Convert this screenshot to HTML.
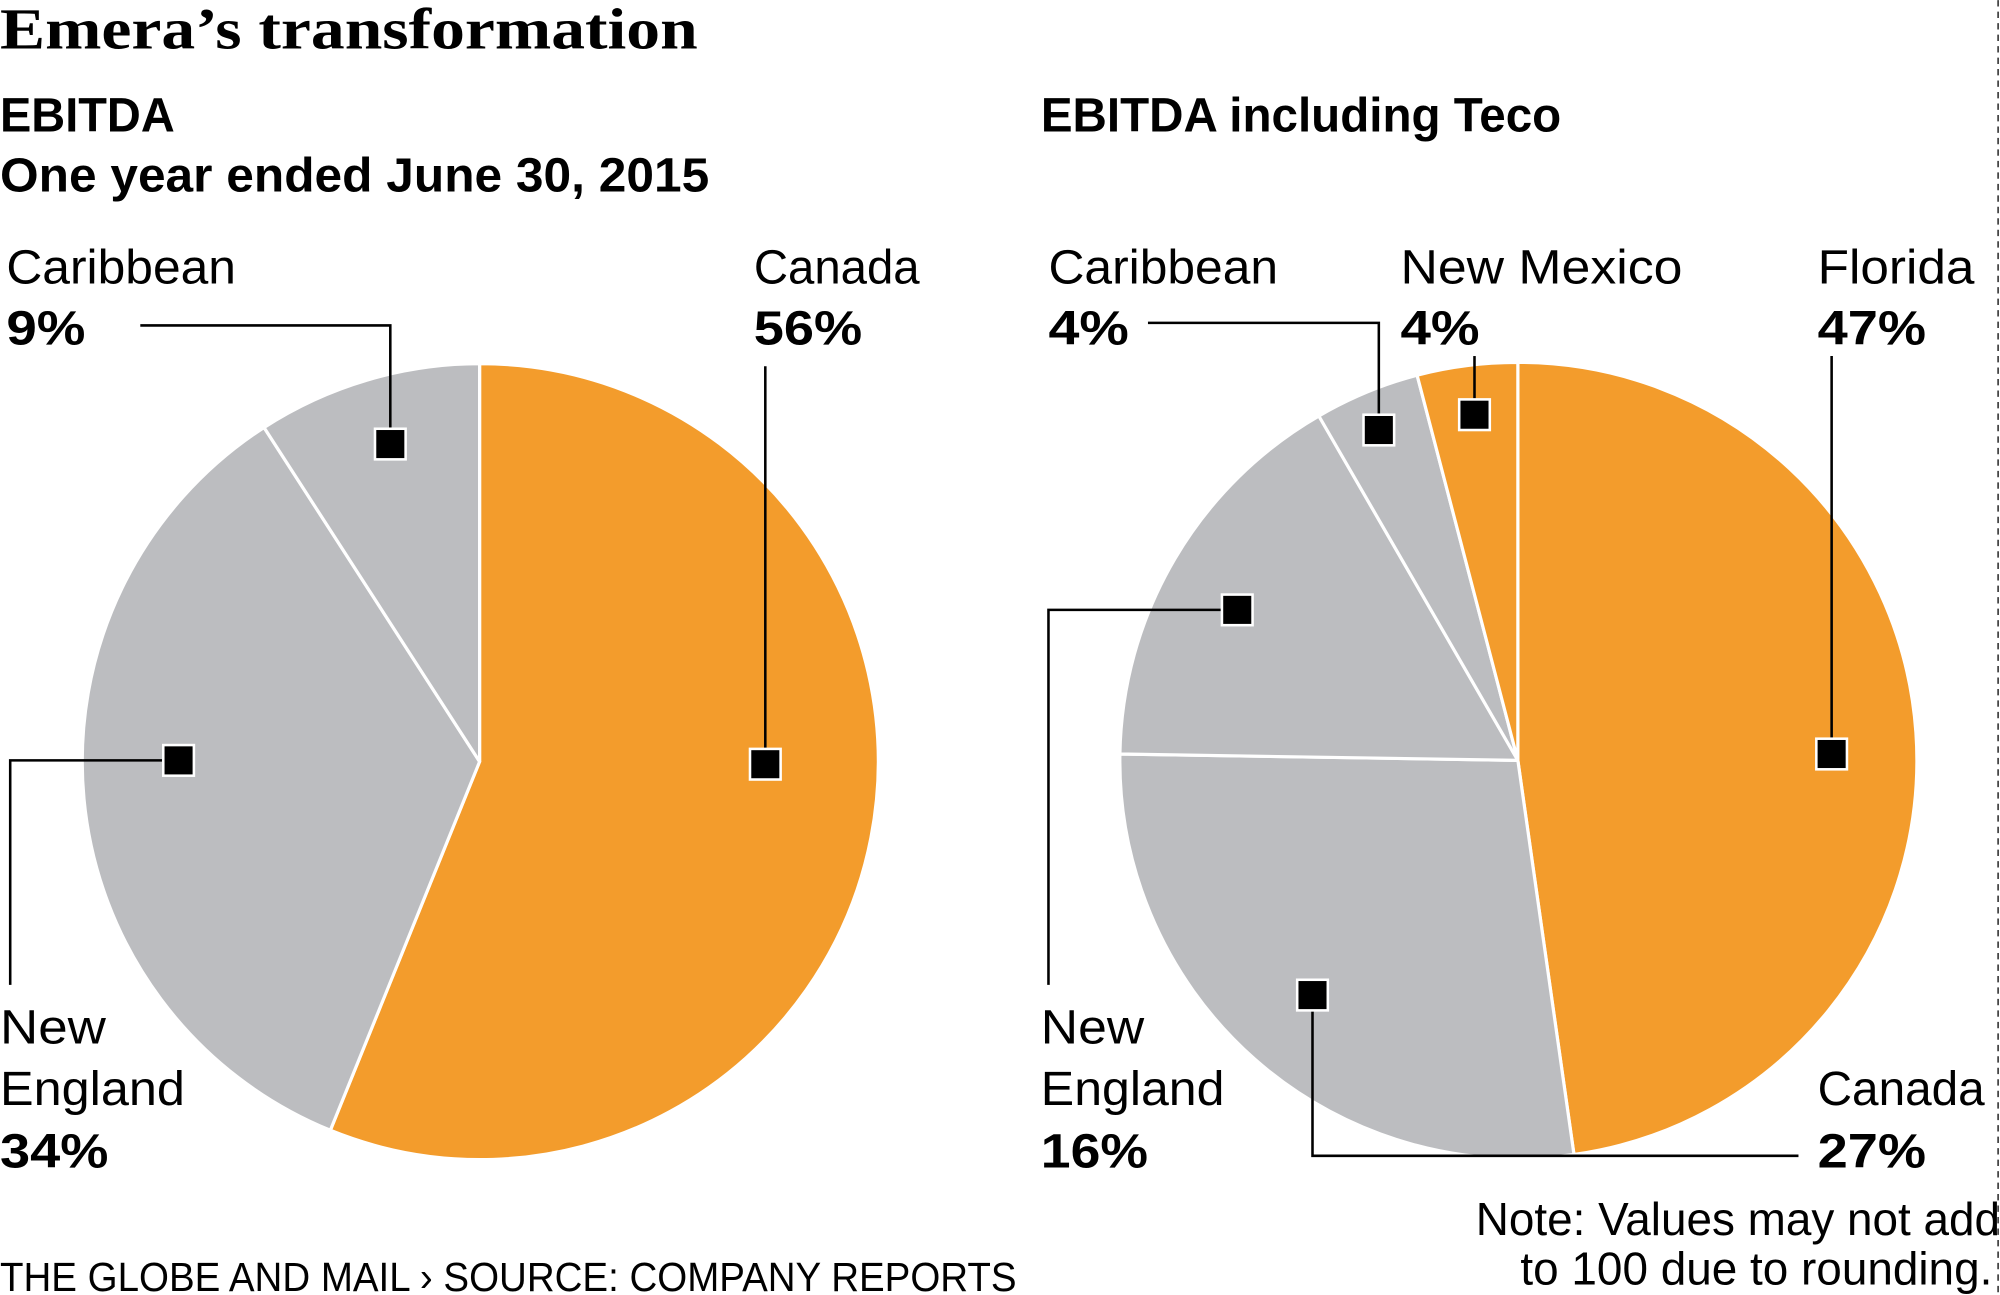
<!DOCTYPE html>
<html><head><meta charset="utf-8"><style>
html,body{margin:0;padding:0;background:#fff;}
svg{display:block;}
text{font-family:"Liberation Sans",sans-serif;fill:#000;}
.t{font-size:38px;}
.b{font-size:38px;font-weight:bold;}
</style></head><body>
<svg width="2000" height="1295" viewBox="0 0 1568 1015" xmlns="http://www.w3.org/2000/svg">
<rect width="1568" height="1015" fill="#fff"/>
<line x1="1566.5" y1="0" x2="1566.5" y2="1015" stroke="#000" stroke-width="1" stroke-dasharray="5,4"/>
<!-- Left pie -->
<g stroke="#fff" stroke-width="2.5" stroke-linejoin="round">
<path d="M376,597 L376,285 A312,312 0 1 1 259,886 Z" fill="#F39C2C"/>
<path d="M376,597 L259,886 A312,312 0 0 1 207,335 Z" fill="#BCBDC0"/>
<path d="M376,597 L207,335 A312,312 0 0 1 376,285 Z" fill="#BCBDC0"/>
</g>
<!-- Right pie -->
<g stroke="#fff" stroke-width="2.5" stroke-linejoin="round">
<path d="M1190,596 L1190,284 A312,312 0 0 1 1234,905 Z" fill="#F39C2C"/>
<path d="M1190,596 L1234,905 A312,312 0 0 1 878,591 Z" fill="#BCBDC0"/>
<path d="M1190,596 L878,591 A312,312 0 0 1 1034,326 Z" fill="#BCBDC0"/>
<path d="M1190,596 L1034,326 A312,312 0 0 1 1111,294 Z" fill="#BCBDC0"/>
<path d="M1190,596 L1111,294 A312,312 0 0 1 1190,284 Z" fill="#F39C2C"/>
</g>
<!-- leaders -->
<g fill="none" stroke="#000" stroke-width="2">
<polyline points="110,255 306,255 306,348"/>
<polyline points="600,287 600,599"/>
<polyline points="8,772 8,596 140,596"/>
<polyline points="900,253 1081,253 1081,337"/>
<polyline points="1156,279 1156,325"/>
<polyline points="1436,279 1436,591"/>
<polyline points="822,772 822,478 970,478"/>
<polyline points="1410,906 1029,906 1029,780"/>
</g>
<g fill="#000" stroke="#fff" stroke-width="2">
<rect x="294" y="336" width="24" height="24"/>
<rect x="588" y="587" width="24" height="24"/>
<rect x="128" y="584" width="24" height="24"/>
<rect x="1069" y="325" width="24" height="24"/>
<rect x="1144" y="313" width="24" height="24"/>
<rect x="1424" y="579" width="24" height="24"/>
<rect x="958" y="466" width="24" height="24"/>
<rect x="1017" y="768" width="24" height="24"/>
</g>
<!-- text -->
<text x="0" y="38" style="font-family:'Liberation Serif',serif;font-weight:bold;font-size:46px" textLength="547" lengthAdjust="spacingAndGlyphs">Emera’s transformation</text>
<text class="b" x="0" y="103" textLength="137" lengthAdjust="spacingAndGlyphs">EBITDA</text>
<text class="b" x="0" y="150" textLength="556" lengthAdjust="spacingAndGlyphs">One year ended June 30, 2015</text>
<text class="b" x="816" y="103" textLength="408" lengthAdjust="spacingAndGlyphs">EBITDA including Teco</text>
<text class="t" x="5" y="222" textLength="180" lengthAdjust="spacingAndGlyphs">Caribbean</text>
<text class="b" x="5" y="270" textLength="62" lengthAdjust="spacingAndGlyphs">9%</text>
<text class="t" x="591" y="222" textLength="130" lengthAdjust="spacingAndGlyphs">Canada</text>
<text class="b" x="591" y="270" textLength="85" lengthAdjust="spacingAndGlyphs">56%</text>
<text class="t" x="0" y="818" textLength="83" lengthAdjust="spacingAndGlyphs">New</text>
<text class="t" x="0" y="866" textLength="145" lengthAdjust="spacingAndGlyphs">England</text>
<text class="b" x="0" y="915" textLength="85" lengthAdjust="spacingAndGlyphs">34%</text>
<text class="t" x="822" y="222" textLength="180" lengthAdjust="spacingAndGlyphs">Caribbean</text>
<text class="b" x="822" y="270" textLength="63" lengthAdjust="spacingAndGlyphs">4%</text>
<text class="t" x="1098" y="222" textLength="221" lengthAdjust="spacingAndGlyphs">New Mexico</text>
<text class="b" x="1098" y="270" textLength="62" lengthAdjust="spacingAndGlyphs">4%</text>
<text class="t" x="1425" y="222" textLength="123" lengthAdjust="spacingAndGlyphs">Florida</text>
<text class="b" x="1425" y="270" textLength="85" lengthAdjust="spacingAndGlyphs">47%</text>
<text class="t" x="816" y="818" textLength="81" lengthAdjust="spacingAndGlyphs">New</text>
<text class="t" x="816" y="866" textLength="144" lengthAdjust="spacingAndGlyphs">England</text>
<text class="b" x="816" y="915" textLength="84" lengthAdjust="spacingAndGlyphs">16%</text>
<text class="t" x="1425" y="866" textLength="131" lengthAdjust="spacingAndGlyphs">Canada</text>
<text class="b" x="1425" y="915" textLength="85" lengthAdjust="spacingAndGlyphs">27%</text>
<text class="t" x="1157" y="968" style="font-size:36px" textLength="411" lengthAdjust="spacingAndGlyphs">Note: Values may not add</text>
<text class="t" x="1192" y="1007" style="font-size:36px" textLength="370" lengthAdjust="spacingAndGlyphs">to 100 due to rounding.</text>
<text x="0" y="1012" style="font-size:32px" textLength="797" lengthAdjust="spacingAndGlyphs">THE GLOBE AND MAIL › SOURCE: COMPANY REPORTS</text>
</svg>
</body></html>
